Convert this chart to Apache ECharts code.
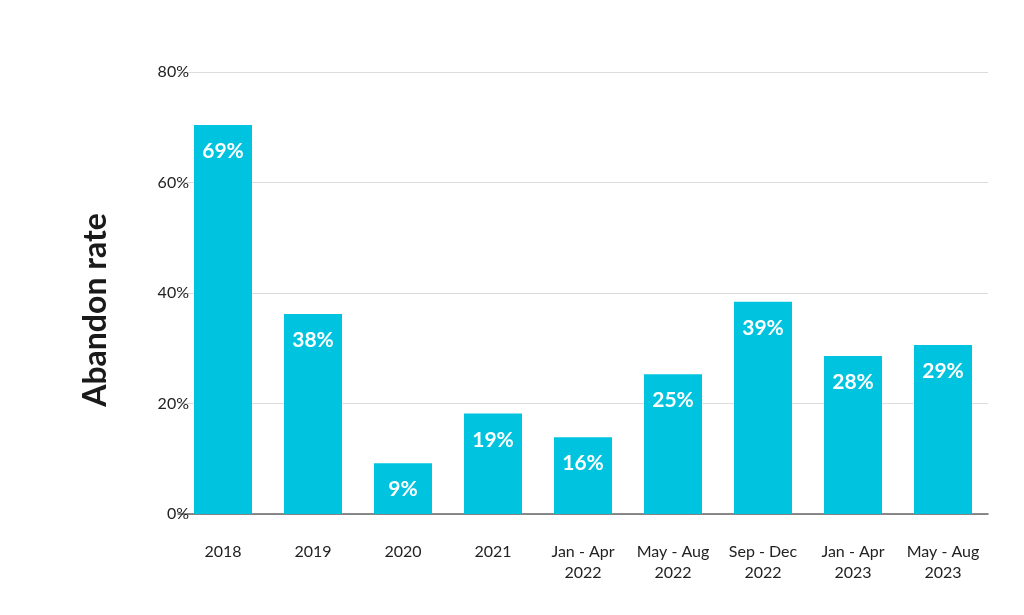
<!DOCTYPE html>
<html>
<head>
<meta charset="utf-8">
<script src="https://cdn.jsdelivr.net/npm/echarts@6/dist/echarts.min.js"></script>
<style>html,body{margin:0;padding:0;background:#fff}#c{width:1024px;height:615px}</style>
</head>
<body>
<div id="c"></div>
<script>
const categories = ['2018', '2019', '2020', '2021', 'Jan - Apr\n2022', 'May - Aug\n2022', 'Sep - Dec\n2022', 'Jan - Apr\n2023', 'May - Aug\n2023'];
const barValues = [70.4, 36.2, 9.2, 18.2, 13.9, 25.3, 38.4, 28.6, 30.6];
const labelValues = [69, 38, 9, 19, 16, 25, 39, 28, 29];
const yTicks = [0, 20, 40, 60, 80];

const font = 'Lato, "Noto Sans", sans-serif';
const chart = echarts.init(document.getElementById('c'));
chart.setOption({
  animation: false,
  grid: { left: 178, right: 36, top: 72, bottom: 101 },
  graphic: [{
    type: 'text',
    x: 96, y: 310,
    rotation: Math.PI / 2,
    style: {
      text: 'Abandon rate',
      font: 'bold 32px ' + font,
      fill: '#1a1a1a',
      textAlign: 'center',
      textVerticalAlign: 'middle'
    }
  }],
  xAxis: {
    type: 'category',
    data: categories,
    axisLine: { lineStyle: { color: '#666', width: 1.5 } },
    axisTick: { show: false },
    axisLabel: { color: '#222', fontSize: 16, fontFamily: font, lineHeight: 21, margin: 27, interval: 0 }
  },
  yAxis: {
    type: 'value',
    min: yTicks[0], max: yTicks[yTicks.length - 1], interval: 20,
    axisLine: { show: false },
    axisTick: { show: false },
    splitLine: { lineStyle: { color: '#dcdcdc', width: 1 } },
    axisLabel: { color: '#222', fontSize: 16, fontFamily: font, margin: -11, formatter: v => v + '%' }
  },
  series: [{
    type: 'bar',
    data: barValues,
    barWidth: 58,
    itemStyle: { color: '#00C4DF' },
    label: {
      show: true,
      position: 'insideTop',
      distance: 16,
      color: '#fff',
      fontSize: 21,
      fontWeight: 'bold',
      fontFamily: font,
      formatter: p => labelValues[p.dataIndex] + '%'
    }
  }]
});
</script>
</body>
</html>
